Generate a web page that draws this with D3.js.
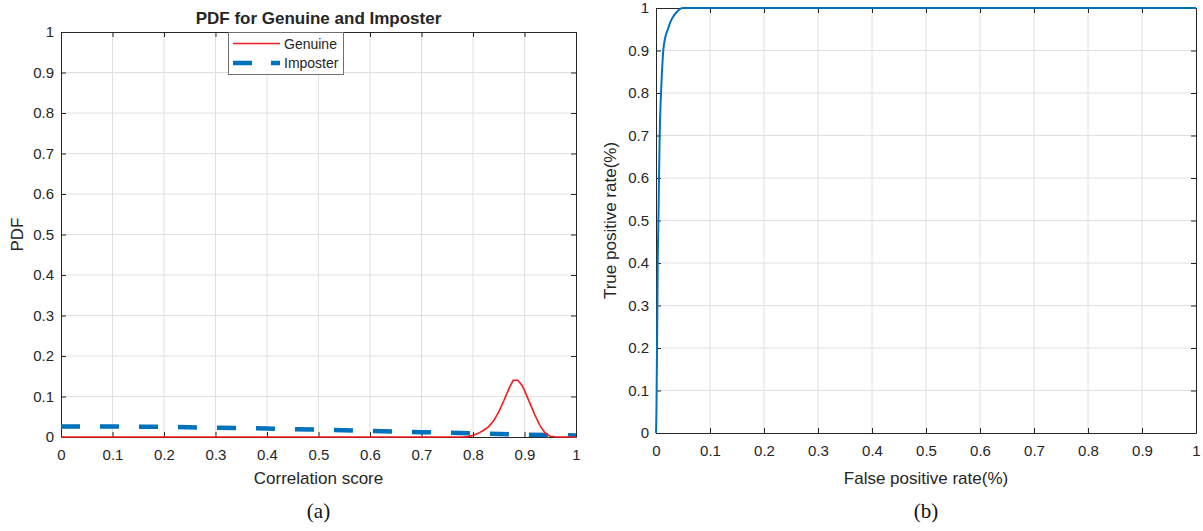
<!DOCTYPE html>
<html>
<head>
<meta charset="utf-8">
<script src="https://cdn.jsdelivr.net/npm/d3@7"></script>
<style>
  body { margin: 0; background: #fff; }
  svg { display: block; font-family: "Liberation Sans", Arial, sans-serif; }
  .tick text { fill: #262626; font-size: 15px; }
  .domain, .tick line { stroke: #262626; }
</style>
</head>
<body>
<svg width="1203" height="531"></svg>
<script>
// tick labels shared by both panels
const ticks = [0, 0.1, 0.2, 0.3, 0.4, 0.5, 0.6, 0.7, 0.8, 0.9, 1];

// (a) genuine PDF
const genuineX = [0, 0.2, 0.4, 0.6, 0.78, 0.79, 0.8, 0.81, 0.82, 0.83, 0.84, 0.85, 0.86, 0.87, 0.878, 0.887, 0.895, 0.9, 0.91, 0.92, 0.93, 0.94, 0.95, 0.96, 1];
const genuineY = [0, 0, 0, 0, 0, 0.001, 0.004, 0.009, 0.016, 0.025, 0.04, 0.062, 0.09, 0.12, 0.14, 0.14, 0.128, 0.115, 0.085, 0.055, 0.028, 0.01, 0.002, 0, 0];

// (a) imposter PDF
const imposterX = [0, 0.1, 0.2, 0.3, 0.4, 0.5, 0.6, 0.7, 0.8, 0.9, 1];
const imposterY = [0.026, 0.026, 0.025, 0.023, 0.021, 0.018, 0.015, 0.012, 0.009, 0.006, 0.004];

// (b) ROC
const fpr = [0, 0.0008, 0.0012, 0.0019, 0.0026, 0.0032, 0.0045, 0.0056, 0.0068, 0.0093, 0.0115, 0.0135, 0.017, 0.022, 0.027, 0.032, 0.038, 0.044, 0.05, 0.2, 0.5, 1];
const tpr = [0, 0.05, 0.1, 0.2, 0.3, 0.4, 0.5, 0.6, 0.7, 0.8, 0.86, 0.9, 0.93, 0.95, 0.968, 0.98, 0.99, 0.997, 1, 1, 1, 1];

const svg = d3.select("svg");
const fmt = d => d3.format("~g")(d);

function makeAxes(box) {
  const x = d3.scaleLinear().domain([0, 1]).range([box.left, box.right]);
  const y = d3.scaleLinear().domain([0, 1]).range([box.bottom, box.top]);
  const g = svg.append("g");

  // grid
  g.append("g").selectAll("line").data(ticks.slice(1, -1)).join("line")
    .attr("x1", d => x(d)).attr("x2", d => x(d))
    .attr("y1", box.top).attr("y2", box.bottom)
    .attr("stroke", "#e0e0e0");
  g.append("g").selectAll("line").data(ticks.slice(1, -1)).join("line")
    .attr("y1", d => y(d)).attr("y2", d => y(d))
    .attr("x1", box.left).attr("x2", box.right)
    .attr("stroke", "#e0e0e0");

  g.append("g").attr("transform", `translate(0,${box.bottom})`)
    .call(d3.axisBottom(x).tickValues(ticks).tickFormat(fmt).tickSize(-5).tickPadding(12).tickSizeOuter(0));
  g.append("g").attr("transform", `translate(0,${box.top})`)
    .call(d3.axisTop(x).tickValues(ticks).tickFormat("").tickSize(-5).tickSizeOuter(0));
  g.append("g").attr("transform", `translate(${box.left},0)`)
    .call(d3.axisLeft(y).tickValues(ticks).tickFormat(fmt).tickSize(-5).tickPadding(7).tickSizeOuter(0));
  g.append("g").attr("transform", `translate(${box.right},0)`)
    .call(d3.axisRight(y).tickValues(ticks).tickFormat("").tickSize(-5).tickSizeOuter(0));
  g.selectAll(".tick text").attr("font-family", null).attr("font-size", null);
  return { x, y };
}

function label(text, x, y, opts = {}) {
  const t = svg.append("text").attr("x", x).attr("y", y)
    .attr("text-anchor", "middle").attr("fill", opts.fill || "#262626")
    .attr("font-size", opts.size || 17).text(text);
  if (opts.bold) t.attr("font-weight", "bold");
  if (opts.rotate) t.attr("transform", `rotate(-90,${x},${y})`);
  if (opts.serif) t.attr("font-family", "'Liberation Serif', 'Times New Roman', serif");
  return t;
}

// ---- panel (a)
const boxA = { left: 61, right: 576, top: 32, bottom: 437 };
const a = makeAxes(boxA);
const lineA = d3.line().x(d => a.x(d[0])).y(d => a.y(d[1]));

svg.append("path").datum(d3.zip(imposterX, imposterY))
  .attr("d", lineA).attr("fill", "none")
  .attr("stroke", "#0072BD").attr("stroke-width", 4.5)
  .attr("stroke-dasharray", "19,20");
svg.append("path").datum(d3.zip(genuineX, genuineY))
  .attr("d", lineA).attr("fill", "none")
  .attr("stroke", "#ee1c1c").attr("stroke-width", 1.6);

label("PDF for Genuine and Imposter", (boxA.left + boxA.right) / 2, 24, { bold: true, size: 17 });
label("Correlation score", (boxA.left + boxA.right) / 2, 484);
label("PDF", 23, (boxA.top + boxA.bottom) / 2, { rotate: true });
label("(a)", (boxA.left + boxA.right) / 2, 518, { serif: true, size: 21, fill: "#111" });

// legend
const leg = svg.append("g");
leg.append("rect").attr("x", 228.5).attr("y", 32.5).attr("width", 115).attr("height", 42)
  .attr("fill", "#fff").attr("stroke", "#6e6e6e");
leg.append("line").attr("x1", 233).attr("x2", 280).attr("y1", 43.5).attr("y2", 43.5)
  .attr("stroke", "#ee1c1c").attr("stroke-width", 1.6);
leg.append("line").attr("x1", 233).attr("x2", 280).attr("y1", 63).attr("y2", 63)
  .attr("stroke", "#0072BD").attr("stroke-width", 4.5).attr("stroke-dasharray", "19,19");
leg.append("text").attr("x", 284).attr("y", 48.5).attr("font-size", 14).attr("fill", "#262626").text("Genuine");
leg.append("text").attr("x", 284).attr("y", 68).attr("font-size", 14).attr("fill", "#262626").text("Imposter");

// ---- panel (b)
const boxB = { left: 656, right: 1196, top: 8, bottom: 433 };
const b = makeAxes(boxB);
svg.append("path").datum(d3.zip(fpr, tpr))
  .attr("d", d3.line().x(d => b.x(d[0])).y(d => b.y(d[1])).curve(d3.curveMonotoneX))
  .attr("fill", "none").attr("stroke", "#0072BD").attr("stroke-width", 2);

label("False positive rate(%)", (boxB.left + boxB.right) / 2, 484);
label("True positive rate(%)", 616, (boxB.top + boxB.bottom) / 2, { rotate: true });
label("(b)", (boxB.left + boxB.right) / 2, 518, { serif: true, size: 21, fill: "#111" });
</script>
</body>
</html>
